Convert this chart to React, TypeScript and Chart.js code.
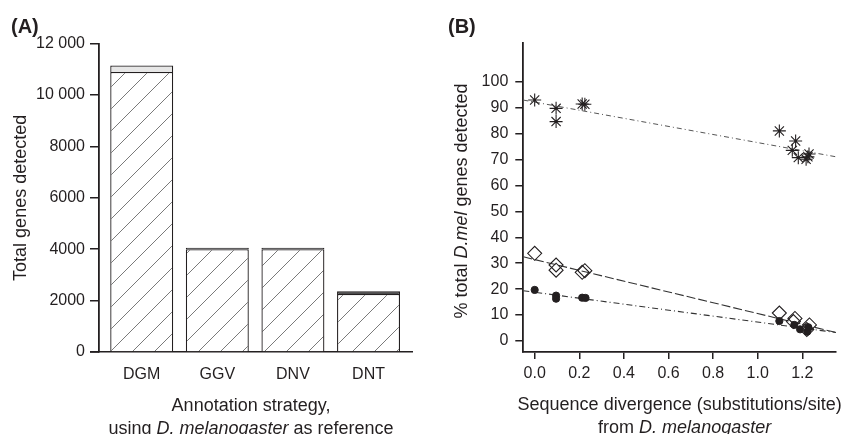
import React, { useEffect, useRef } from 'react';
import { Chart, registerables } from 'chart.js';

Chart.register(...registerables);

const FONT = '"Liberation Sans", Arial, Helvetica, sans-serif';
const INK = '#231f20';

// ---------- Panel A data ----------
const strategies = ['DGM', 'GGV', 'DNV', 'DNT'];
const genesMain = [10900, 4000, 4000, 2260];
const genesExtra = [250, 55, 55, 100];
const extraColors = ['#e6e6e6', '#333333', '#333333', '#4d4d4d'];
const yTicksA = [0, 2000, 4000, 6000, 8000, 10000, 12000];
const yTickLabelsA = ['0', '2000', '4000', '6000', '8000', '10 000', '12 000'];

// ---------- Panel B data ----------
const starX = [0.0, 0.096, 0.096, 0.213, 0.225, 1.097, 1.17, 1.155, 1.182, 1.217, 1.23, 1.225];
const starY = [92.9, 89.7, 84.6, 91.4, 91.3, 81.0, 77.1, 73.5, 70.7, 70.1, 72.1, 71.0];
const diamondX = [0.0, 0.096, 0.096, 0.213, 0.225, 1.097, 1.167, 1.16, 1.232, 1.22];
const diamondY = [33.8, 29.3, 27.3, 26.5, 27.1, 10.8, 8.7, 7.5, 6.2, 4.4];
const dotX = [0.0, 0.096, 0.096, 0.213, 0.228, 1.097, 1.164, 1.19, 1.222, 1.227];
const dotY = [19.7, 17.5, 16.3, 16.7, 16.6, 7.7, 6.2, 4.5, 3.6, 5.3];
// regression lines: intercept, slope
const fitStar = { intercept: 92.1, slope: -15.6 };
const fitDiamond = { intercept: 31.4, slope: -20.8 };
const fitDot = { intercept: 18.8, slope: -11.5 };
const xTicksB = [0, 0.2, 0.4, 0.6, 0.8, 1.0, 1.2];
const xTickLabelsB = ['0.0', '0.2', '0.4', '0.6', '0.8', '1.0', '1.2'];
const yTicksB = [0, 10, 20, 30, 40, 50, 60, 70, 80, 90, 100];
const X_MIN_B = -0.051;
const X_MAX_B = 1.351;

type Seg = { t: string; i?: boolean };

function drawSegs(ctx: CanvasRenderingContext2D, segs: Seg[], x: number, y: number, size: number, rotate = false) {
  ctx.save();
  ctx.translate(x, y);
  if (rotate) ctx.rotate(-Math.PI / 2);
  const fonts = segs.map((s) => `${s.i ? 'italic ' : ''}${size}px ${FONT}`);
  const widths = segs.map((s, k) => {
    ctx.font = fonts[k];
    return ctx.measureText(s.t).width;
  });
  const total = widths.reduce((a, b) => a + b, 0);
  let cx = -total / 2;
  ctx.textAlign = 'left';
  ctx.textBaseline = 'alphabetic';
  ctx.fillStyle = INK;
  segs.forEach((s, k) => {
    ctx.font = fonts[k];
    ctx.fillText(s.t, cx, 0);
    cx += widths[k];
  });
  ctx.restore();
}

function makeHatch(): CanvasPattern | string {
  const c = document.createElement('canvas');
  const n = 22;
  c.width = n;
  c.height = n;
  const g = c.getContext('2d');
  if (!g) return '#ffffff';
  g.fillStyle = '#ffffff';
  g.fillRect(0, 0, n, n);
  g.strokeStyle = '#7a7a7a';
  g.lineWidth = 1;
  g.beginPath();
  g.moveTo(-2, n + 2);
  g.lineTo(n + 2, -2);
  g.moveTo(-2, 2);
  g.lineTo(2, -2);
  g.moveTo(n - 2, n + 2);
  g.lineTo(n + 2, n - 2);
  g.stroke();
  const p = g.createPattern(c, 'repeat');
  return p || '#ffffff';
}

const tickFont = { family: FONT, size: 16 };

function PanelA() {
  const ref = useRef<HTMLCanvasElement>(null);
  useEffect(() => {
    if (!ref.current) return;
    const hatch = makeHatch();
    const deco = {
      id: 'decoA',
      afterDraw(chart: any) {
        const { ctx, chartArea } = chart;
        ctx.save();
        ctx.strokeStyle = INK;
        ctx.lineWidth = 1.5;
        ctx.beginPath();
        ctx.moveTo(90, chartArea.bottom);
        ctx.lineTo(chartArea.left, chartArea.bottom);
        ctx.stroke();
        ctx.restore();
        ctx.save();
        ctx.font = `bold 20px ${FONT}`;
        ctx.fillStyle = INK;
        ctx.textAlign = 'left';
        ctx.textBaseline = 'alphabetic';
        ctx.fillText('(A)', 11, 33);
        ctx.restore();
        const cxm = (90 + chartArea.right) / 2;
        drawSegs(ctx, [{ t: 'Total genes detected' }], 26, (chartArea.top + chartArea.bottom) / 2, 18, true);
        drawSegs(ctx, [{ t: 'Annotation strategy,' }], cxm, 411, 18);
        drawSegs(ctx, [{ t: 'using ' }, { t: 'D. melanogaster', i: true }, { t: ' as reference' }], cxm, 434, 18);
      },
    };
    const chart = new Chart(ref.current, {
      type: 'bar',
      data: {
        datasets: [
          {
            label: 'Genes detected',
            data: strategies.map((_, i) => ({ x: i + 1, y: genesMain[i] })),
            backgroundColor: hatch as any,
            borderColor: INK,
            borderWidth: 1.3,
            categoryPercentage: 0.833,
            barPercentage: 1,
          },
          {
            label: 'Additional',
            data: strategies.map((_, i) => ({ x: i + 1, y: genesExtra[i] })),
            backgroundColor: extraColors,
            borderColor: INK,
            borderWidth: 1.3,
            categoryPercentage: 0.833,
            barPercentage: 1,
          },
        ],
      },
      options: {
        animation: false,
        responsive: false,
        maintainAspectRatio: false,
        layout: { padding: { left: 0, top: 43.7, right: 18, bottom: 0 } },
        plugins: { legend: { display: false }, tooltip: { enabled: false } },
        scales: {
          x: {
            type: 'linear',
            offset: false,
            min: 0.435,
            max: 4.575,
            stacked: true,
            grid: { display: false, drawTicks: false, offset: false },
            border: { display: true, color: INK, width: 1.5 },
            ticks: {
              font: tickFont,
              color: INK,
              padding: 13,
              includeBounds: false,
              callback: (v: any) => strategies[Math.round(v) - 1] ?? '',
            },
            afterBuildTicks: (s: any) => {
              s.ticks = strategies.map((_, i) => ({ value: i + 1 }));
            },
            afterFit: (s: any) => {
              s.height = 82;
            },
          } as any,
          y: {
            type: 'linear',
            min: 0,
            max: 12000,
            stacked: true,
            grid: { display: true, drawOnChartArea: false, drawTicks: true, tickLength: 9, color: INK, lineWidth: 1.5 },
            border: { display: true, color: INK, width: 1.8 },
            ticks: {
              font: tickFont,
              color: INK,
              padding: 5,
              callback: (_v: any, i: number) => yTickLabelsA[i],
            },
            afterBuildTicks: (s: any) => {
              s.ticks = yTicksA.map((v) => ({ value: v }));
            },
            afterFit: (s: any) => {
              s.width = 99;
            },
          } as any,
        },
      },
      plugins: [deco],
    });
    return () => chart.destroy();
  }, []);
  return <canvas ref={ref} width={430} height={434} style={{ position: 'absolute', left: 0, top: 0, width: 430, height: 434 }} />;
}

function fitLine(f: { intercept: number; slope: number }) {
  return [X_MIN_B, X_MAX_B].map((x) => ({ x, y: f.intercept + f.slope * x }));
}

function PanelB() {
  const ref = useRef<HTMLCanvasElement>(null);
  useEffect(() => {
    if (!ref.current) return;
    const deco = {
      id: 'decoB',
      afterDraw(chart: any) {
        const { ctx, chartArea } = chart;
        ctx.save();
        ctx.font = `bold 20px ${FONT}`;
        ctx.fillStyle = INK;
        ctx.textAlign = 'left';
        ctx.textBaseline = 'alphabetic';
        ctx.fillText('(B)', 18, 33);
        ctx.restore();
        const cxm = (chartArea.left + chartArea.right) / 2;
        drawSegs(ctx, [{ t: '% total ' }, { t: 'D.mel', i: true }, { t: ' genes detected' }], 37, 201, 18, true);
        drawSegs(ctx, [{ t: 'Sequence divergence (substitutions/site)' }], cxm, 410, 18);
        drawSegs(ctx, [{ t: 'from ' }, { t: 'D. melanogaster', i: true }], cxm + 5, 433, 18);
      },
    };
    const chart = new Chart(ref.current, {
      type: 'scatter',
      data: {
        datasets: [
          {
            label: 'dots',
            data: dotX.map((x, i) => ({ x, y: dotY[i] })),
            pointStyle: 'circle',
            pointRadius: 3.6,
            backgroundColor: INK,
            borderColor: INK,
            borderWidth: 1,
          },
          {
            label: 'diamonds',
            data: diamondX.map((x, i) => ({ x, y: diamondY[i] })),
            pointStyle: 'rectRot',
            pointRadius: 7,
            backgroundColor: 'rgba(0,0,0,0)',
            borderColor: INK,
            borderWidth: 1.1,
          },
          {
            label: 'stars',
            data: starX.map((x, i) => ({ x, y: starY[i] })),
            pointStyle: 'star',
            pointRadius: 6.5,
            backgroundColor: INK,
            borderColor: INK,
            borderWidth: 1.1,
          },
          {
            type: 'line',
            label: 'fit stars',
            data: fitLine(fitStar),
            borderColor: '#555',
            borderWidth: 1,
            borderDash: [5, 3, 1, 3],
            pointRadius: 0,
            showLine: true,
          } as any,
          {
            type: 'line',
            label: 'fit diamonds',
            data: fitLine(fitDiamond),
            borderColor: '#333',
            borderWidth: 1.1,
            borderDash: [9, 3],
            pointRadius: 0,
            showLine: true,
          } as any,
          {
            type: 'line',
            label: 'fit dots',
            data: fitLine(fitDot),
            borderColor: '#333',
            borderWidth: 1.1,
            borderDash: [6, 3, 1, 3],
            pointRadius: 0,
            showLine: true,
          } as any,
        ],
      },
      options: {
        animation: false,
        responsive: false,
        maintainAspectRatio: false,
        layout: { padding: { left: 0, top: 43, right: 13, bottom: 0 } },
        plugins: { legend: { display: false }, tooltip: { enabled: false } },
        scales: {
          x: {
            type: 'linear',
            min: X_MIN_B,
            max: X_MAX_B,
            grid: { display: true, drawOnChartArea: false, drawTicks: true, tickLength: 7, color: INK, lineWidth: 1.5 },
            border: { display: true, color: INK, width: 1.8 },
            ticks: {
              font: tickFont,
              color: INK,
              padding: 5,
              callback: (_v: any, i: number) => xTickLabelsB[i],
            },
            afterBuildTicks: (s: any) => {
              s.ticks = xTicksB.map((v) => ({ value: v }));
            },
            afterFit: (s: any) => {
              s.height = 82;
            },
          } as any,
          y: {
            type: 'linear',
            min: -4.24,
            max: 114.9,
            grid: { display: true, drawOnChartArea: false, drawTicks: true, tickLength: 8, color: INK, lineWidth: 1.5 },
            border: { display: true, color: INK, width: 1.8 },
            ticks: {
              font: tickFont,
              color: INK,
              padding: 7,
              callback: (_v: any, i: number) => String(yTicksB[i]),
            },
            afterBuildTicks: (s: any) => {
              s.ticks = yTicksB.map((v) => ({ value: v }));
            },
            afterFit: (s: any) => {
              s.width = 93.3;
            },
          } as any,
        },
      },
      plugins: [deco],
    });
    return () => chart.destroy();
  }, []);
  return <canvas ref={ref} width={419} height={434} style={{ position: 'absolute', left: 430, top: 0, width: 419, height: 434 }} />;
}

export default function App() {
  return (
    <div style={{ position: 'fixed', left: 0, top: 0, width: 849, height: 434, background: '#ffffff', overflow: 'hidden' }}>
      <PanelA />
      <PanelB />
    </div>
  );
}
